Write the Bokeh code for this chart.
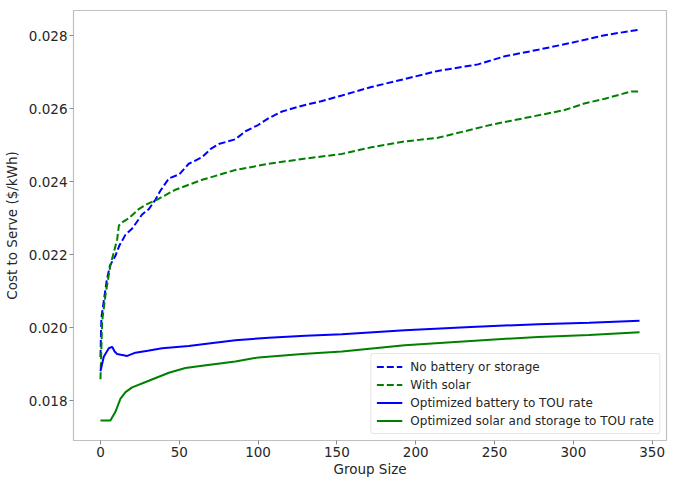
from bokeh.plotting import figure
from bokeh.models import Range1d, FixedTicker, PrintfTickFormatter, Legend, LegendItem
from bokeh.embed import file_html
from bokeh.resources import INLINE

# ---- data ----
nobat_x = [0, 0.6, 2.1, 4, 6, 9.5, 12, 15.9, 20, 26.4, 30.7, 34.9, 38, 43.4, 50, 56, 64.5, 70, 75,
           85.6, 92, 100, 106.8, 115.2, 128, 140, 153.2, 171.8, 193, 214, 239.5, 256.4, 277.6,
           298.7, 319.9, 342]
nobat_y = [0.0192, 0.02028, 0.02073, 0.02130, 0.02170, 0.02197, 0.02225, 0.02255, 0.02271, 0.02310,
           0.02325, 0.02351, 0.02375, 0.02409, 0.02420, 0.02449, 0.02467, 0.0249, 0.02503, 0.02516,
           0.02538, 0.02555, 0.02574, 0.02592, 0.02608, 0.02620, 0.02636, 0.02659, 0.02681, 0.02703,
           0.02721, 0.02743, 0.02761, 0.02780, 0.02801, 0.02816]

solar_x = [0, 1.1, 3.2, 6.3, 10.6, 11.7, 14, 18, 24.3, 29.2, 36, 47.6, 64.5, 85.6, 106.8, 128,
           153.2, 171.8, 193, 214, 231, 248, 269, 294.5, 307, 320, 336.7, 342]
solar_y = [0.01859, 0.02019, 0.0209, 0.02171, 0.02242, 0.02280, 0.02289, 0.02300, 0.02325, 0.02338,
           0.02351, 0.02378, 0.02405, 0.02432, 0.02449, 0.02462, 0.02476, 0.02494, 0.0251, 0.0252,
           0.02538, 0.02556, 0.02574, 0.02596, 0.02614, 0.02627, 0.02647, 0.02647]

optbat_x = [0, 2.1, 5.3, 7.4, 9, 10.6, 13, 17, 22.2, 30, 39.1, 56, 70, 85.6, 106.8, 130, 153.2,
            193, 235, 277.6, 310, 342]
optbat_y = [0.01881, 0.01921, 0.01944, 0.01948, 0.01935, 0.01928, 0.01926, 0.01923, 0.01932,
            0.01937, 0.01944, 0.0195, 0.01958, 0.01966, 0.01973, 0.01978, 0.01982, 0.01993,
            0.02002, 0.02010, 0.02014, 0.02019]

optsol_x = [0, 6.3, 9.5, 12.7, 15.9, 20.1, 30.7, 43.4, 53.9, 64.5, 85.6, 100.4, 128, 153.2, 193,
            235, 277.6, 310, 342]
optsol_y = [0.01746, 0.01746, 0.0177, 0.01806, 0.01824, 0.01837, 0.01855, 0.01877, 0.0189,
            0.01896, 0.01908, 0.01919, 0.01928, 0.01935, 0.01952, 0.01964, 0.01975, 0.01980,
            0.01988]

labels = ["No battery or storage", "With solar", "Optimized battery to TOU rate",
          "Optimized solar and storage to TOU rate"]
x_ticks = [0, 50, 100, 150, 200, 250, 300, 350]
y_ticks = [0.018, 0.020, 0.022, 0.024, 0.026, 0.028]

FONT = "DejaVu Sans"
TXT = "#262626"
SPINE = "#c0c0c0"

p = figure(frame_width=593, frame_height=430, output_backend="svg", toolbar_location=None,
           x_range=Range1d(-17.1, 359.1), y_range=Range1d(0.016915, 0.028685),
           min_border_left=64, min_border_right=3, min_border_top=10, min_border_bottom=0)
p.xgrid.visible = False
p.ygrid.visible = False
p.outline_line_color = SPINE
p.outline_line_width = 1.2
p.background_fill_color = "white"
p.border_fill_color = "white"

for ax in (p.xaxis[0], p.yaxis[0]):
    ax.axis_line_color = SPINE
    ax.major_tick_line_color = "#8a8a8a"
    ax.major_tick_out = 4
    ax.major_tick_in = 0
    ax.minor_tick_line_color = None
    ax.major_label_text_font = FONT
    ax.major_label_text_font_size = "13.5px"
    ax.major_label_text_color = TXT
    ax.axis_label_text_font = FONT
    ax.axis_label_text_font_size = "13.5px"
    ax.axis_label_text_font_style = "normal"
    ax.axis_label_text_color = TXT
    ax.major_label_standoff = 2

p.xaxis.ticker = FixedTicker(ticks=x_ticks)
p.yaxis.ticker = FixedTicker(ticks=y_ticks)
p.yaxis.formatter = PrintfTickFormatter(format="%.3f")
p.xaxis.axis_label = "Group Size"
p.yaxis.axis_label = "Cost to Serve ($/kWh)"
p.xaxis.axis_label_standoff = 1
p.yaxis.axis_label_standoff = 6

r1 = p.line(nobat_x, nobat_y, line_color="blue", line_width=2, line_dash="7 3")
r2 = p.line(solar_x, solar_y, line_color="green", line_width=2, line_dash="7 3")
r3 = p.line(optbat_x, optbat_y, line_color="blue", line_width=2)
r4 = p.line(optsol_x, optsol_y, line_color="green", line_width=2)

legend = Legend(items=[LegendItem(label=labels[0], renderers=[r1]),
                       LegendItem(label=labels[1], renderers=[r2]),
                       LegendItem(label=labels[2], renderers=[r3]),
                       LegendItem(label=labels[3], renderers=[r4])],
                location="bottom_right", margin=6, padding=5, spacing=3,
                label_text_font=FONT, label_text_font_size="12px", label_text_color=TXT,
                label_height=15, glyph_height=15, glyph_width=26, label_standoff=8,
                border_line_color="#cccccc", border_line_width=1, border_radius=3,
                background_fill_color="white", background_fill_alpha=0.85)
p.add_layout(legend)

open("out.html", "w").write(file_html(p, INLINE))
